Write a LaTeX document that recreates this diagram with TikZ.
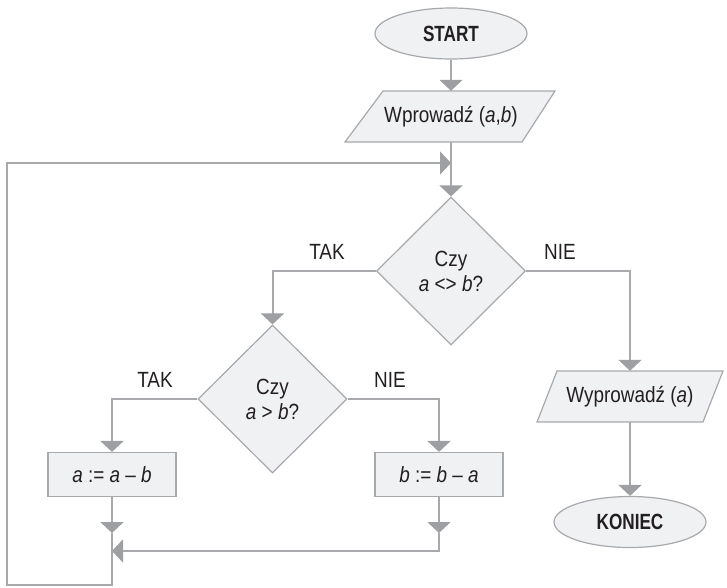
\documentclass[tikz,border=0pt]{standalone}
\usepackage{fontspec}
\setmainfont{Liberation Sans}[FakeStretch=0.86, BoldFeatures={FakeStretch=0.78}]
\usetikzlibrary{arrows.meta,shapes.geometric}
\definecolor{lin}{HTML}{A7A9AC}
\definecolor{shfill}{HTML}{F0F1F3}
\definecolor{txt}{HTML}{231F20}
\definecolor{tipc}{HTML}{9D9FA2}
\begin{document}
\begin{tikzpicture}[x=1pt,y=-1pt,
  font=\fontsize{22}{26}\selectfont, text=txt,
  conn/.style={draw=lin, line width=2pt},
  arr/.style={conn, -{Triangle[width=23pt,length=11pt,color=tipc,fill=tipc]}},
  shapeline/.style={draw=lin, line width=1.2pt, fill=shfill},
  term/.style={ellipse, shapeline, minimum width=152pt, minimum height=51pt, inner sep=0pt, font=\fontsize{22}{26}\selectfont\bfseries},
  proc/.style={rectangle, shapeline, minimum width=128pt, minimum height=44pt, inner sep=0pt},
  dec/.style={diamond, shapeline, minimum width=149pt, minimum height=148pt, inner sep=0pt, align=center, font=\fontsize{22}{25}\selectfont},
  iotext/.style={rectangle, draw=none, minimum height=51pt, inner sep=0pt},
  lbl/.style={inner sep=0pt}
]
\useasboundingbox (0,0) rectangle (727,587);

% shapes
\node[term] (start) at (451,33.5) {START};
\draw[shapeline] (345,142) -- (383,91) -- (555,91) -- (522,142) -- cycle;
\node[iotext] (in1) at (451,116.5) {Wprowadź (\textit{a},\textit{b})};
\node[dec] (d1) at (451,271) {Czy\\\textit{a} <> \textit{b}?};
\node[dec] (d2) at (272.5,399) {Czy\\\textit{a} > \textit{b}?};
\node[proc] (pa) at (112,474.5) {\textit{a} := \textit{a} – \textit{b}};
\node[proc] (pb) at (439,474.5) {\textit{b} := \textit{b} – \textit{a}};
\draw[shapeline] (537,422) -- (557,371) -- (723,371) -- (703,422) -- cycle;
\node[iotext] (out) at (630,396.5) {Wyprowadź (\textit{a})};
\node[term] (stop) at (630,522) {KONIEC};

% labels
\node[lbl] (t1) at (327,252) {TAK};
\node[lbl] (n1) at (560,252) {NIE};
\node[lbl] (t2) at (155,380) {TAK};
\node[lbl] (n2) at (390,380) {NIE};

% helper coordinates
\coordinate (m1) at (451,163);
\coordinate (c1) at (272.5,271);
\coordinate (c2) at (630,271);
\coordinate (c3) at (112,399);
\coordinate (c4) at (439,399);
\coordinate (ma) at (112,533);
\coordinate (mb) at (439,533);
\coordinate (cb) at (439,551);
\coordinate (jm) at (112,551);
\coordinate (bot1) at (112,585);
\coordinate (bot2) at (7,585);
\coordinate (top1) at (7,163);

% connectors
\draw[arr] (start) -- (in1);
\draw[arr] (in1.south) -- (d1.north);
\draw[arr] (d1.west) -- (c1) -- (d2.north);
\draw[arr] (d1.east) -- (c2) -- (out.north);
\draw[arr] (d2.west) -- (c3) -- (pa.north);
\draw[arr] (d2.east) -- (c4) -- (pb.north);
\draw[arr] (out.south) -- (stop.north);
\draw[arr] (pa.south) -- (ma);
\draw[arr] (pb.south) -- (mb);
\draw[arr] (mb) -- (cb) -- (jm);
\draw[arr] (ma) -- (bot1) -- (bot2) -- (top1) -- (m1);
\end{tikzpicture}
\end{document}
